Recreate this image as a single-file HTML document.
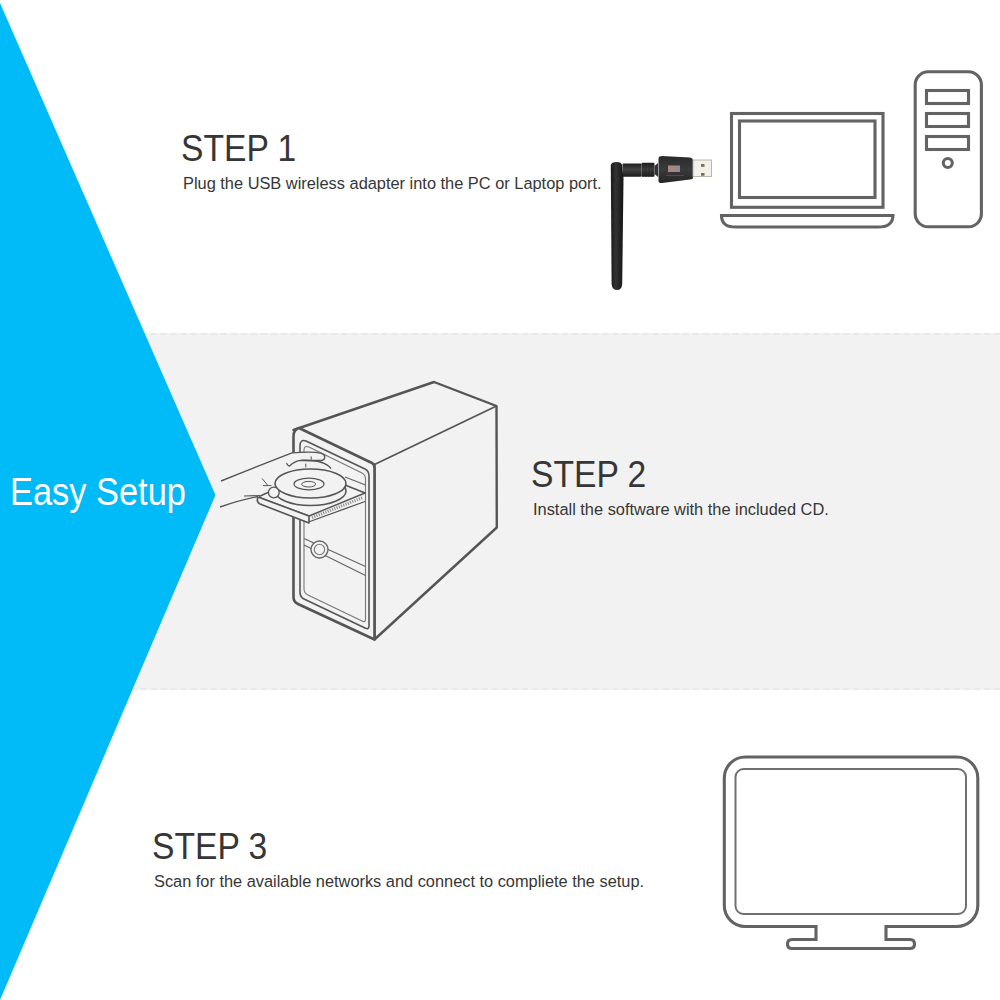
<!DOCTYPE html>
<html><head><meta charset="utf-8">
<style>
html,body{margin:0;padding:0;}
body{width:1000px;height:1000px;position:relative;overflow:hidden;background:#fff;font-family:"Liberation Sans",sans-serif;}
.band{position:absolute;left:0;top:333px;width:1000px;height:356.5px;background:#f2f2f2;}
.dash{position:absolute;left:0;width:1000px;height:0;border-top:2px dashed #e9e9e9;}
svg{position:absolute;left:0;top:0;}
.t{position:absolute;white-space:nowrap;color:#363636;line-height:1;transform-origin:0 0;}
.h{font-size:36px;transform:scaleX(0.934);}
.s{font-size:17.4px;transform:scaleX(0.9415);}
.ez{position:absolute;left:10px;top:472px;color:#fff;font-size:39px;line-height:1;white-space:nowrap;transform-origin:0 0;transform:scaleX(0.882);}
</style></head><body>
<div class="band"></div>
<div class="dash" style="top:333px"></div>
<div class="dash" style="top:688px"></div>
<svg width="1000" height="1000" viewBox="0 0 1000 1000">
<polygon points="0,3 215.5,495 0,1000" fill="none" stroke="#fbfdff" stroke-width="2.6"/>
<polygon points="0,3 215.5,495 0,1000" fill="#00bbf8"/>
</svg>
<div class="ez">Easy Setup</div>
<div class="t h" style="left:181px;top:131px">STEP 1</div>
<div class="t s" style="left:183px;top:174.5px">Plug the USB wireless adapter into the PC or Laptop port.</div>
<div class="t h" style="left:531px;top:456.5px">STEP 2</div>
<div class="t s" style="left:533px;top:500.5px">Install the software with the included CD.</div>
<div class="t h" style="left:151.5px;top:829px">STEP 3</div>
<div class="t s" style="left:154px;top:873px;transform:scaleX(0.9405)">Scan for the available networks and connect to compliete the setup.</div>

<svg width="1000" height="1000" viewBox="0 0 1000 1000" fill="none" stroke="#636363" stroke-width="3.1">
<!-- laptop -->
<rect x="731.5" y="113.5" width="151.5" height="93.8"/>
<rect x="739.5" y="121" width="135.5" height="76.5" />
<path d="M721.5,215.5 H893 Q893,222 888,225 Q885,227 878,227 H736 Q729,227 726,225 Q721.5,222 721.5,215.5 Z"/>
<!-- tower -->
<rect x="915.2" y="71.8" width="66.2" height="155" rx="13"/>
<rect x="926.5" y="90.5" width="42" height="13"/>
<rect x="926.5" y="113.5" width="42" height="13"/>
<rect x="926.5" y="136.5" width="42" height="13"/>
<circle cx="947.8" cy="163" r="4.5"/>
<!-- monitor -->
<path d="M816,926.5 H745.3 A21,21 0 0 1 724.3,905.5 V778 A21,21 0 0 1 745.3,757 H956.8 A21,21 0 0 1 977.8,778 V905.5 A21,21 0 0 1 956.8,926.5 H886 V939.5 H910 Q914.5,939.5 914.5,944 Q914.5,948.5 910,948.5 H792 Q787.5,948.5 787.5,944 Q787.5,939.5 792,939.5 H816 Z"/>
<rect x="735.5" y="769" width="230.5" height="145" rx="8" stroke-width="2" stroke="#707070"/>
</svg>

<!-- USB adapter -->
<svg width="1000" height="1000" viewBox="0 0 1000 1000">
<defs>
<linearGradient id="ant" x1="0" x2="1" y1="0" y2="0">
<stop offset="0" stop-color="#1a1a1a"/><stop offset="0.4" stop-color="#333"/><stop offset="1" stop-color="#141414"/>
</linearGradient>
<linearGradient id="con" x1="0" x2="0" y1="0" y2="1">
<stop offset="0" stop-color="#1e1e1e"/><stop offset="0.45" stop-color="#444"/><stop offset="1" stop-color="#1a1a1a"/>
</linearGradient>
<linearGradient id="bod" x1="0" x2="0" y1="0" y2="1">
<stop offset="0" stop-color="#2a2a2a"/><stop offset="0.5" stop-color="#3a3a3a"/><stop offset="1" stop-color="#262626"/>
</linearGradient>
</defs>
<path d="M610.8,165 Q611.5,162 616.5,162 Q621.5,162 622,165 L623.5,178 L622.2,284 Q621.8,290 617,290 Q612.2,290 611.6,284 Z" fill="url(#ant)"/>
<rect x="622.5" y="163.5" width="19" height="13.2" rx="1" fill="url(#con)"/>
<rect x="641.5" y="162.8" width="13" height="14" rx="1" fill="url(#con)"/>
<path d="M643,163 v14 M646,163 v14 M649,163 v14 M652,163 v14" stroke="#222" stroke-width="0.8"/>
<path d="M654.5,166 L658,163 L658,177 L654.5,174 Z" fill="#333"/>
<path d="M658.5,158 Q659,156 662,156 L690,157.5 Q693.2,158 693.2,161 L693.2,177 Q693.2,179.5 690,179.5 L662,183 Q658.5,183.2 658.5,181 Z" fill="url(#bod)"/>
<rect x="668" y="165.5" width="7" height="6.5" fill="#a8877c"/>
<rect x="675" y="165.5" width="5" height="6.5" fill="#8d8d98"/>
<rect x="666" y="175" width="18" height="0.8" fill="#555"/>
<rect x="693" y="160" width="18.5" height="16.5" fill="#f2f0ea" stroke="#b5b0a5" stroke-width="0.9"/>
<rect x="701" y="164" width="3.5" height="2.8" fill="#8a6a45"/>
<rect x="701" y="173" width="3.5" height="2.8" fill="#8a6a45"/>
</svg>

<!-- PC case illustration -->
<svg width="1000" height="1000" viewBox="0 0 1000 1000" fill="none" stroke="#555" stroke-width="2.2" stroke-linejoin="round">
<polygon points="293.5,430 434,382 496.5,406 496.8,527.5 374.5,639.5 374.5,464.5" fill="#f2f2f2" stroke-width="2.4"/>
<path d="M374.5,464.5 L496.5,406" stroke-width="1.7"/>
<path d="M293.5,436 Q293.5,430 299,428 L372,463 Q374.5,464.5 374.5,468 L374.5,639.5 L298,604 Q293.5,602 293.5,597 Z" fill="#f2f2f2" stroke-width="2.6"/>
<path d="M300,446 Q300,439 306,441 L365,469 Q369,471 369,476 L369,626 Q369,630 365,628 L304,599 Q300,597 300,592 Z" stroke-width="1.6"/>
<path d="M304,450 Q304,445 309,447 L362,473 Q365.5,475 365.5,479 L365.5,619 Q365.5,623 362,621 L308,595 Q304,593 304,589 Z" stroke-width="1.1" stroke="#777"/>
<path d="M304,538.5 L365.5,566.5 M304,545 L365.5,575.5" stroke-width="1.3" stroke="#666"/>
<circle cx="319.5" cy="549.5" r="8.5" fill="#f2f2f2" stroke-width="1.4" stroke="#666"/>
<circle cx="319.5" cy="549.5" r="5.2" stroke-width="1.1" stroke="#777"/>
<path d="M345,477 L365.5,485 M345,486 L365.5,493" stroke-width="1.3" stroke="#666"/>
<!-- tray -->
<polygon points="258,497 309,516 365,493 345,485 300,478" fill="#f3f3f3" stroke-width="1.4"/>
<path d="M308.5,522 L365,501.5" stroke-width="1.3"/>
<path d="M312,517.5 L363,497.5" stroke-width="3" stroke="#8a8a8a" stroke-dasharray="1.1 1.3"/>
<path d="M258,497 L309,516 L309,523 L260,504 Q256,502 258,497 Z" fill="#f2f2f2" stroke-width="1.6"/>
<!-- hand arm -->
<path d="M221,481 Q258,466 292,452.8 L322,453 L331,468 L299,469 L276,482 L258,497 Q240,500 220,507 Z" fill="#f2f2f2" stroke="none"/>
<path d="M221,481 Q258,466 292,452.8" stroke-width="1.4"/>
<path d="M220,507 Q240,500 258,496.5" stroke-width="1.4"/>
<path d="M244,496 L260,495.5" stroke-width="1.1"/>
<!-- CD -->
<ellipse cx="310.5" cy="491" rx="35.5" ry="14.5" fill="#f2f2f2" stroke-width="1.5"/>
<ellipse cx="310.5" cy="483.5" rx="35.5" ry="14.5" fill="#f2f2f2" stroke-width="1.6"/>
<ellipse cx="309" cy="484" rx="15" ry="5.9" stroke-width="1.2"/>
<ellipse cx="308.7" cy="484.2" rx="7" ry="2.8" stroke-width="1"/>
<!-- fingers -->
<path d="M292,452.8 C302,452 316,452 321.5,453.3 C326,454.6 325.5,459.6 322,460.5 L301,460.3 C296,460.8 292,463.5 289.6,466 C287.5,465.5 286.5,464 287,463" stroke-width="1.3"/>
<path d="M301,460.3 C312,460 325,461 331,468.5" stroke-width="1.3"/>
<path d="M311.2,456.4 L311.2,459.6 M305.8,463.6 L305.8,467.4" stroke-width="1"/>
<path d="M262,478.4 L268,485.6 M263,485.6 L271.4,485.6" stroke-width="1"/>
<circle cx="273.8" cy="492.5" r="5.4" fill="#f2f2f2" stroke-width="1.3"/>
</svg>
</body></html>
